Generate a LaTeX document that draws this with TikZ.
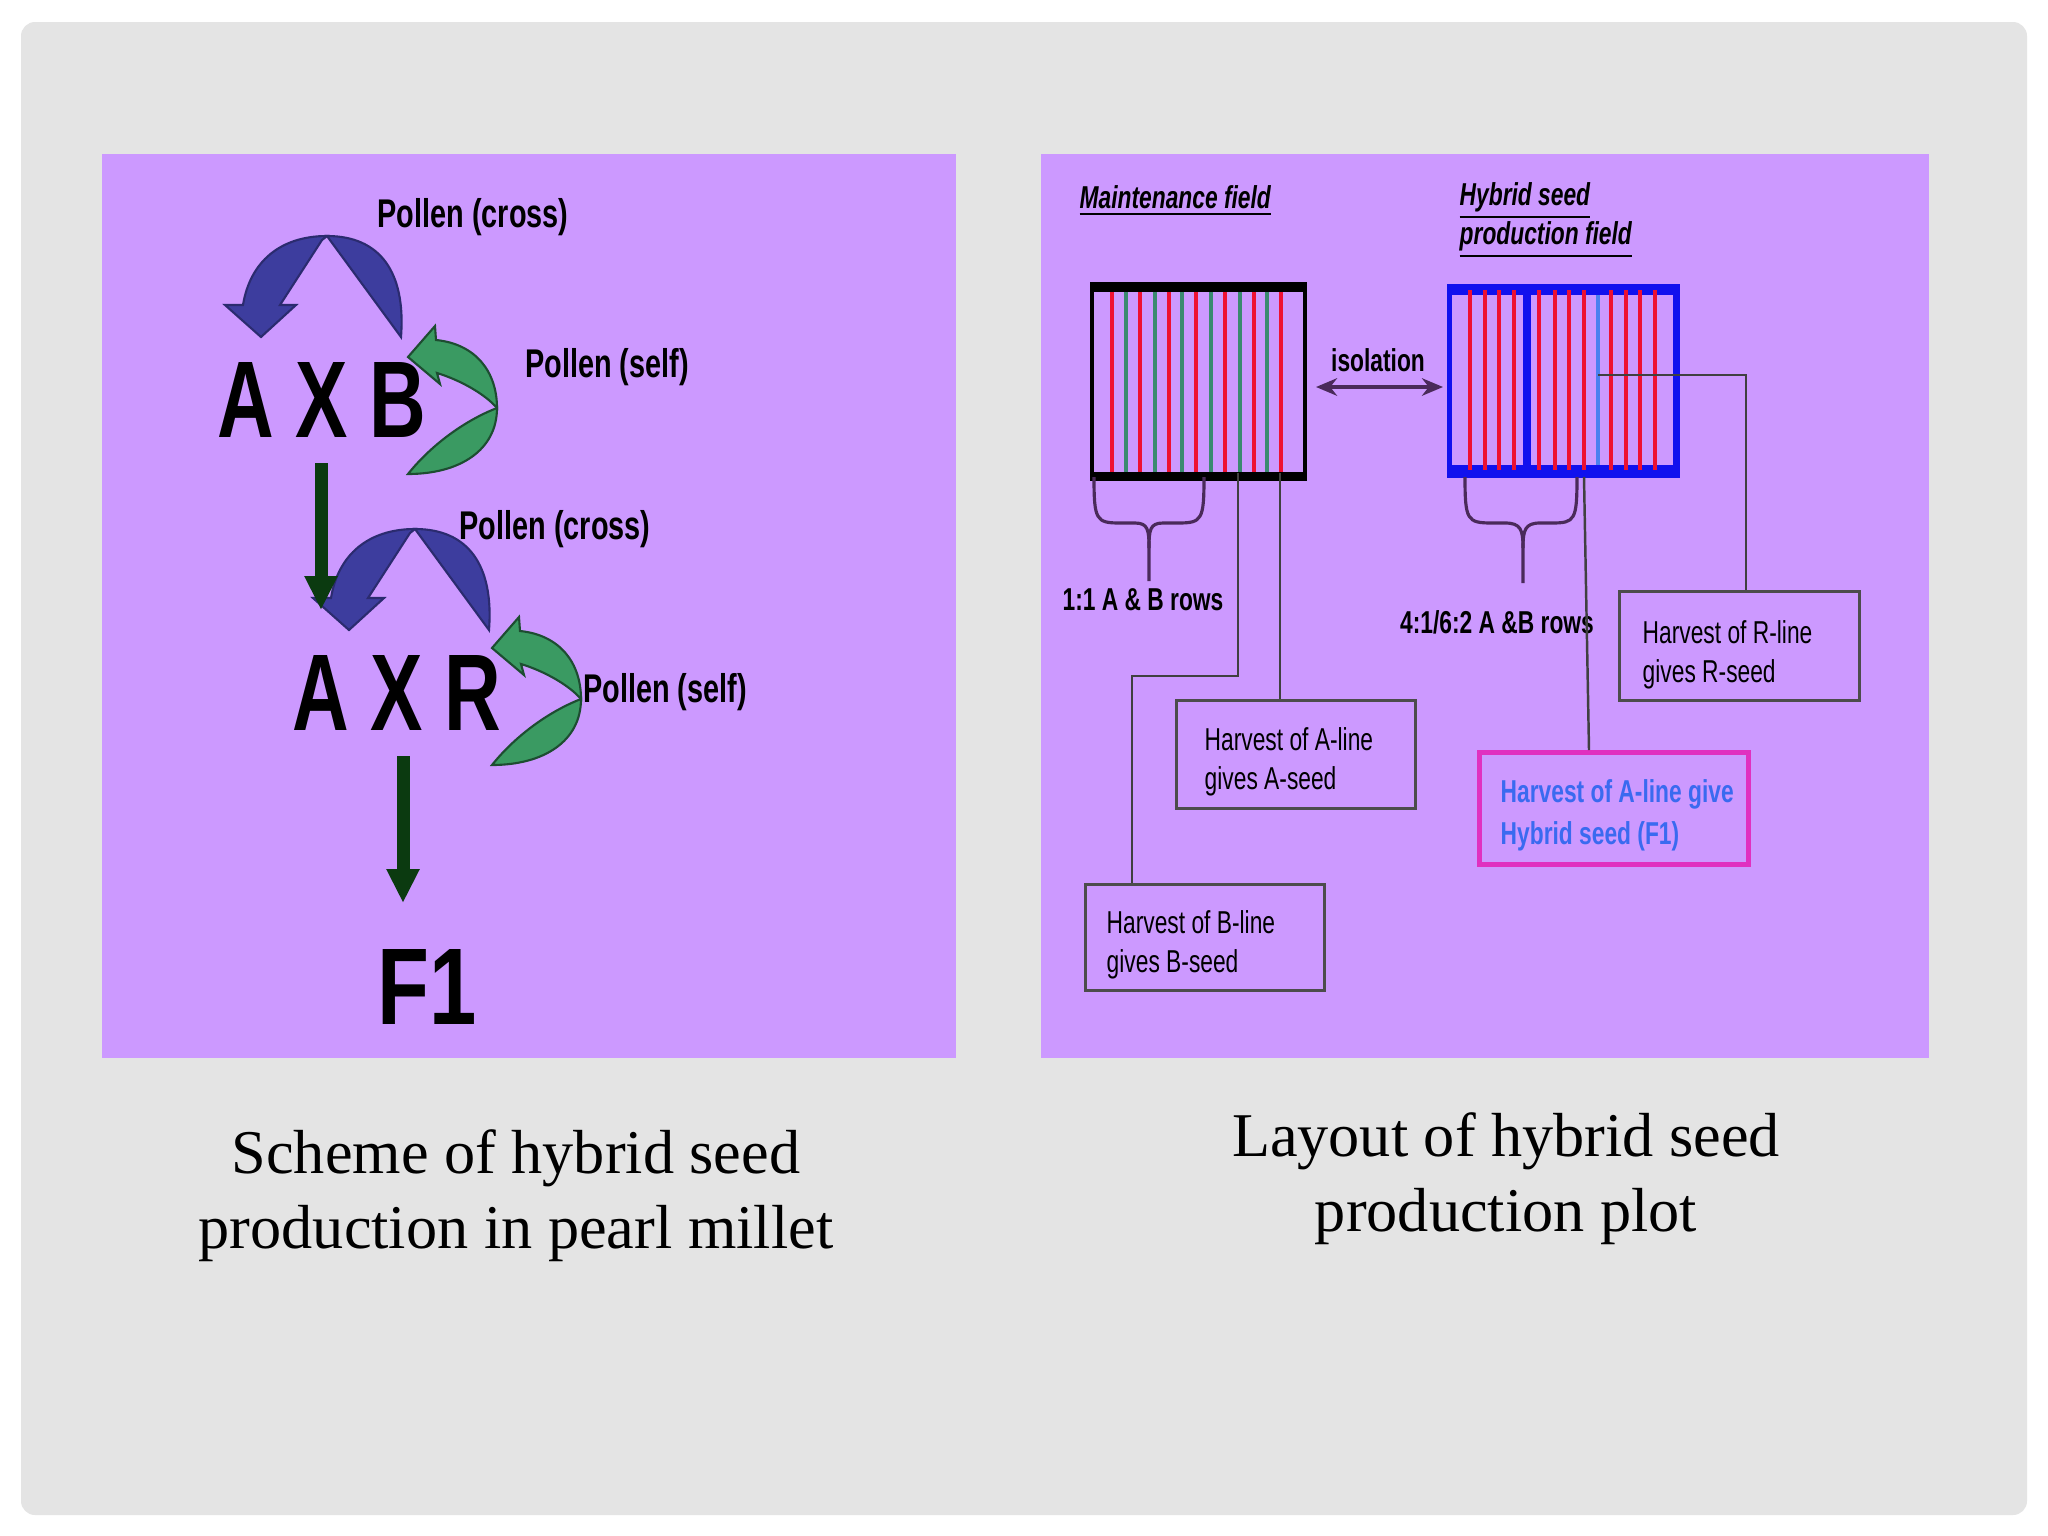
\documentclass[tikz,border=0pt]{standalone}
\usepackage{fontspec}
\setmainfont{Liberation Serif}
\newfontfamily\arialf{Liberation Sans}
\usetikzlibrary{arrows.meta}
\definecolor{bgray}{HTML}{E4E4E4}
\definecolor{panel}{HTML}{CC99FF}
\definecolor{barc}{HTML}{3D3D9E}
\definecolor{garc}{HTML}{3A9A62}
\definecolor{darr}{HTML}{0B3A10}
\definecolor{lred}{HTML}{EE1133}
\definecolor{lgreen}{HTML}{3A8A70}
\definecolor{hblue}{HTML}{1111EE}
\definecolor{lblue}{HTML}{4A80F0}
\definecolor{pinkb}{HTML}{E030C0}
\definecolor{ptext}{HTML}{3A6AF0}
\definecolor{lpur}{HTML}{4A2A5A}
\newcommand\nw[1]{\scalebox{0.72}[1]{#1}}
\newcommand\bluearc{%
  \filldraw[barc,draw=barc!70!black,line width=0.6pt] (401,337) .. controls (406,272) and (380,236) .. (327,236) -- cycle;
  \filldraw[barc,draw=barc!70!black,line width=0.6pt] (327,236) .. controls (280,236) and (250,262) .. (243,305) -- (225,305) -- (261,337) -- (296,305) -- (280,305) -- (322,240) -- cycle;}
\newcommand\greenarc{%
  \filldraw[garc,draw=garc!50!black,line width=0.6pt] (408,357) -- (435,326) -- (436,340) .. controls (476,344) and (497,372) .. (497,408) .. controls (485,394) and (460,380) .. (437,373) -- (440,384) -- cycle;
  \filldraw[garc,draw=garc!50!black,line width=0.6pt] (497,408) .. controls (497,450) and (460,474) .. (408,474) .. controls (432,444) and (466,420) .. (497,408) -- cycle;}
\tikzset{
  lbl/.style={font=\arialf\bfseries\fontsize{11.4}{13}\selectfont, inner sep=0pt},
  big/.style={font=\arialf\bfseries\fontsize{31}{33}\selectfont, inner sep=0pt},
  rt/.style={font=\arialf\fontsize{9}{10}\selectfont, inner sep=0pt, anchor=west},
  rtb/.style={font=\arialf\bfseries\fontsize{9}{10}\selectfont, inner sep=0pt},
  captxt/.style={font=\fontsize{17.7}{21.3}\selectfont, align=center, inner sep=0pt},
  down/.style={darr, line width=13*0.01cm, -{Triangle[length=34*0.01cm,width=31*0.01cm]}},
  hbox/.style={draw=black!70, line width=0.9pt},
  conn/.style={draw=black!75, line width=0.7pt},
}
\begin{document}
\begin{tikzpicture}[x=0.01cm,y=-0.01cm]
\fill[white] (0,0) rectangle (2048,1536);
\useasboundingbox (0,0) rectangle (2048,1536);
\fill[bgray, rounded corners=4pt] (21,22) rectangle (2027,1515);
\fill[panel] (102,154) rectangle (956,1058);
\fill[panel] (1041,154) rectangle (1929,1058);

% ---------- left panel ----------
\bluearc
\begin{scope}[shift={(88,293)}]\bluearc\end{scope}
\greenarc
\begin{scope}[shift={(84,291)}]\greenarc\end{scope}
\node[lbl] (pc1) at (473,217) {\nw{Pollen (cross)}};
\node[lbl] (ps1) at (607,367) {\nw{Pollen (self)}};
\node[lbl] (pc2) at (555,529) {\nw{Pollen (cross)}};
\node[lbl] (ps2) at (665,692) {\nw{Pollen (self)}};
\node[big] (axb) at (322,400) {\scalebox{0.72}[1]{A X B}};
\node[big] (axr) at (397,693) {\scalebox{0.72}[1]{A X R}};
\node[big] (f1) at (427,987) {\scalebox{0.78}[1]{F1}};
\coordinate (a1s) at (321,463); \coordinate (a1e) at (321,610);
\coordinate (a2s) at (403,756); \coordinate (a2e) at (403,903);
\draw[down] (a1s) -- (a1e);
\draw[down] (a2s) -- (a2e);

% ---------- right panel ----------
\node[rtb, anchor=west] (mf) at (1079,201) {\nw{\itshape\underline{Maintenance field}}};
\node[rtb, anchor=west] (hs1) at (1459,201) {\nw{\itshape\underline{Hybrid seed}}};
\node[rtb, anchor=west] (hs2) at (1459,240) {\nw{\itshape\underline{production field}}};

% maintenance field
\node[draw=black, line width=1.1pt, minimum width=213*0.01cm, minimum height=186*0.01cm, inner sep=0pt, anchor=north west] (mbox) at (1090,287) {};
\foreach \x in {1112,1140,1169,1196,1225,1254,1281} \draw[lred, line width=1.1pt] (\x,287) -- (\x,473);
\foreach \x in {1126,1155,1182,1211,1240,1267} \draw[lgreen, line width=1.1pt] (\x,287) -- (\x,473);
\draw[black, line width=2.6pt] (mbox.north west) -- (mbox.north east);
\draw[black, line width=2.6pt] (mbox.south west) -- (mbox.south east);

% hybrid field
\node[fill=hblue, minimum width=233*0.01cm, minimum height=194*0.01cm, inner sep=0pt, anchor=north west] (hbx) at (1446,283) {};
\fill[panel] (1452,295) rectangle (1673,465);
\draw[hblue, line width=2.2pt] (1527,295) -- (1527,465);
\draw[lblue, line width=1.4pt] (1598,295) -- (1598,465);
\foreach \x in {1470,1485,1499,1514,1539,1555,1569,1584,1611,1626,1640,1655} \draw[lred, line width=1.1pt] (\x,290) -- (\x,470);

% isolation
\node[rtb] (iso) at (1378,360) {\nw{isolation}};
\coordinate (isoL) at (1316,387); \coordinate (isoR) at (1443,387);
\draw[lpur, line width=0.9pt, {Stealth[length=6pt,width=5pt]}-{Stealth[length=6pt,width=5pt]}] (isoL) -- (isoR);

% braces
\draw[lpur, line width=0.9pt] (1094,477) .. controls (1094,520) and (1096,523) .. (1120,523) -- (1135,523) .. controls (1148,523) and (1149,530) .. (1149,548) -- (1149,581);
\draw[lpur, line width=0.9pt] (1204,477) .. controls (1204,520) and (1202,523) .. (1178,523) -- (1163,523) .. controls (1150,523) and (1149,530) .. (1149,548);
\draw[lpur, line width=0.9pt] (1465,477) .. controls (1465,520) and (1467,523) .. (1492,523) -- (1505,523) .. controls (1521,523) and (1523,530) .. (1523,548) -- (1523,583);
\draw[lpur, line width=0.9pt] (1577,477) .. controls (1577,520) and (1575,523) .. (1552,523) -- (1540,523) .. controls (1525,523) and (1523,530) .. (1523,548);
\node[rtb] (r11) at (1143,600) {\nw{1:1 A \& B rows}};
\node[rtb] (r41) at (1497,622) {\nw{4:1/6:2 A \&B rows}};

% harvest boxes
\node[hbox, minimum width=239*0.01cm, minimum height=108*0.01cm, inner sep=0pt, anchor=north west] (abox) at (1175,699) {};
\node[rt] (at1) at (1204,739) {\nw{Harvest of A-line}};
\node[rt] (at2) at (1204,781) {\nw{gives A-seed}};
\node[hbox, minimum width=239*0.01cm, minimum height=106*0.01cm, inner sep=0pt, anchor=north west] (bbox) at (1084,883) {};
\node[rt] (bt1) at (1106,922) {\nw{Harvest of B-line}};
\node[rt] (bt2) at (1106,964) {\nw{gives B-seed}};
\node[hbox, minimum width=240*0.01cm, minimum height=109*0.01cm, inner sep=0pt, anchor=north west] (rbox) at (1618,590) {};
\node[rt] (rt1) at (1642,632) {\nw{Harvest of R-line}};
\node[rt] (rt2) at (1642,674) {\nw{gives R-seed}};
\node[draw=pinkb, line width=1.3pt, minimum width=269*0.01cm, minimum height=112*0.01cm, inner sep=0pt, anchor=north west] (pbox) at (1477,750) {};
\node[rt, text=ptext, font=\arialf\bfseries\fontsize{9}{10}\selectfont] (pt1) at (1500,794) {\nw{Harvest of A-line give}};
\node[rt, text=ptext, font=\arialf\bfseries\fontsize{9}{10}\selectfont] (pt2) at (1500,836) {\nw{Hybrid seed (F1)}};

% connectors
\draw[conn] (1238,473) -- (1238,676) -- (1132,676) -- (bbox.north -| 1132,0);
\draw[conn] (1280,473) -- (abox.north -| 1280,0);
\draw[conn] (1584,477) -- (pbox.north -| 1589,0);
\draw[conn] (1598,375) -- (1746,375) -- (rbox.north -| 1746,0);

% captions
\node[captxt] (c1) at (516,1196) {Scheme of hybrid seed\\production in pearl millet};
\node[captxt] (c2) at (1506,1179) {Layout of hybrid seed\\production plot};
\end{tikzpicture}
\end{document}
